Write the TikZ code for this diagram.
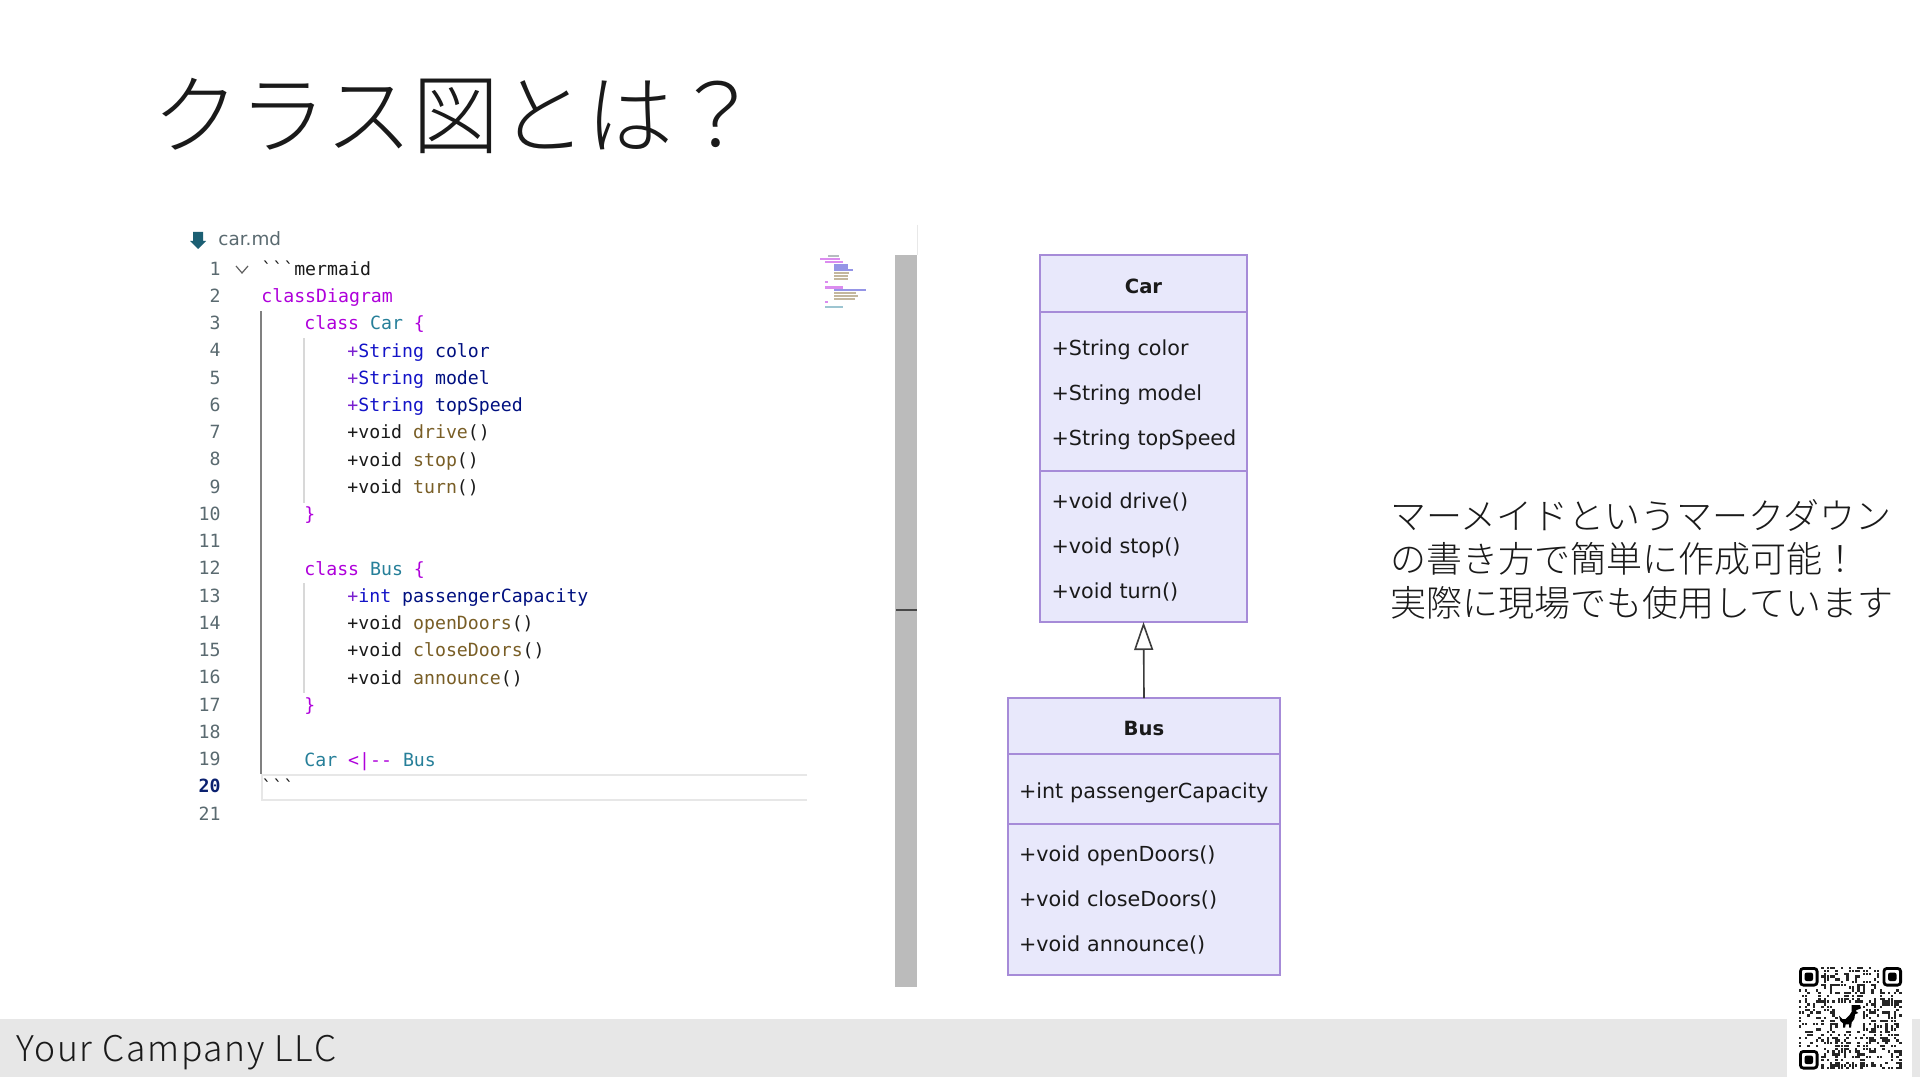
\documentclass[tikz,border=0pt]{standalone}
\usepackage{fontspec}
\usepackage{xcolor}
\usetikzlibrary{positioning,arrows.meta,calc}
\setmainfont{DejaVu Sans}
\newfontfamily\cjk{Noto Sans CJK JP Light}
\newfontfamily\cjkwide{Noto Sans CJK JP Light}[LetterSpace=5]
\newfontfamily\codef{DejaVu Sans Mono}
\definecolor{ink}{HTML}{1A1A1A}
\definecolor{barg}{HTML}{E7E7E7}
\definecolor{scrollg}{HTML}{BBBBBB}
\definecolor{numg}{HTML}{5A6A70}
\definecolor{numd}{HTML}{0B216F}
\definecolor{kw}{HTML}{AF00DB}
\definecolor{typ}{HTML}{267F99}
\definecolor{plusb}{HTML}{7A20D0}
\definecolor{strb}{HTML}{1414C8}
\definecolor{varb}{HTML}{001080}
\definecolor{fnc}{HTML}{795E26}
\definecolor{guide}{HTML}{D8D8D8}
\definecolor{umlfill}{HTML}{E8E8FB}
\definecolor{umlline}{HTML}{A68BD8}
\newcommand{\kwd}[1]{\textcolor{kw}{#1}}
\newcommand{\typ}[1]{\textcolor{typ}{#1}}
\newcommand{\fld}[2]{\textcolor{plusb}{+}\textcolor{strb}{#1} \textcolor{varb}{#2}}
\newcommand{\mth}[1]{+void \textcolor{fnc}{#1}()}
\newcommand{\lowr}[2]{\raisebox{-#1}[\height][\depth]{#2}}
\tikzset{
  codeln/.style={anchor=base west, inner sep=0pt, text=ink,
                 font=\codef\fontsize{9.1}{11}\selectfont},
  numln/.style={anchor=base east, inner sep=0pt, text=numg,
                font=\codef\fontsize{9.1}{11}\selectfont},
  headbox/.style={draw=umlline, fill=umlfill, line width=1.1pt, inner sep=0pt, outer sep=0pt,
                  font=\bfseries\fontsize{9.8}{12}\selectfont, text=ink},
  membox/.style={draw=umlline, fill=umlfill, line width=1.1pt, inner sep=0pt, outer sep=0pt,
                 align=left, font=\fontsize{10.35}{22.5}\selectfont, text=ink},
  inherit/.style={-{Triangle[open,length=14pt,width=9.5pt]}, line width=0.8pt, color=ink!85},
  jptext/.style={inner sep=0pt, text=ink, font=\cjk},
}
\begin{document}
\begin{tikzpicture}[x=0.5pt,y=-0.5pt]
\useasboundingbox (0,0) rectangle (1920,1080);
\fill[white] (0,0) rectangle (1920,1080);

% title and footer
\node[jptext, anchor=west, font=\cjk\fontsize{43.6}{50}\selectfont] (title) at (152,116) {クラス図とは？};
\fill[barg] (0,1019) rectangle (1920,1077);
\fill[white] (1787,960) rectangle (1912,1077);
\node[jptext, anchor=base west, font=\cjkwide\fontsize{17.7}{22}\selectfont] (company) at (16,1061) {Your Campany LLC};

% editor
\fill[fill=typ!75!black] (193,232) -- (203,232) -- (203,241) -- (206,241) -- (198,249) -- (190,241) -- (193,241) -- cycle;
\node[anchor=base west, inner sep=0pt, text=numg, font=\fontsize{9.2}{11}\selectfont] (fname) at (218,246) {car.md};
\draw[ink!70, line width=0.6pt] (236,266) -- (242,273) -- (248,266);
\begin{scope}[yshift=-0.6pt]
\foreach \n in {1,...,19,21}
  \node[numln] (n\n) at (221,{268+27.25*(\n-1)+6}) {\n};
\node[numln, text=numd] (n20) at (221,{268+27.25*19+6}) {\textbf{20}};

\draw[guide, line width=0.8pt] (304,337) -- (304,502);
\draw[guide, line width=0.8pt] (304,582) -- (304,692);
\draw[gray, line width=1pt] (261,310) -- (261,773);

\node[codeln] (c1) at (261,274) {```mermaid};
\node[codeln] (c2) at (261,301) {\kwd{classDiagram}};
\node[codeln] (c3) at (304,328.5) {\kwd{class} \typ{Car} \kwd{\{}};
\node[codeln] (c4) at (347,356) {\fld{String}{color}};
\node[codeln] (c5) at (347,383) {\fld{String}{model}};
\node[codeln] (c6) at (347,410) {\fld{String}{topSpeed}};
\node[codeln] (c7) at (347,437.5) {\mth{drive}};
\node[codeln] (c8) at (347,465) {\mth{stop}};
\node[codeln] (c9) at (347,492) {\mth{turn}};
\node[codeln] (c10) at (304,519) {\kwd{\}}};
\node[codeln] (c12) at (304,574) {\kwd{class} \typ{Bus} \kwd{\{}};
\node[codeln] (c13) at (347,601) {\fld{int}{passengerCapacity}};
\node[codeln] (c14) at (347,628.5) {\mth{openDoors}};
\node[codeln] (c15) at (347,655.5) {\mth{closeDoors}};
\node[codeln] (c16) at (347,683) {\mth{announce}};
\node[codeln] (c17) at (304,710) {\kwd{\}}};
\node[codeln] (c19) at (304,765) {\typ{Car} \kwd{<|--} \typ{Bus}};
\node[codeln] (c20) at (261,792) {```};
\end{scope}
\draw[barg, line width=1.2pt] (807,775) -- (262,775) -- (262,800) -- (807,800);

% minimap
\foreach \r/\i/\l/\c in {0/6/9/numg,1/0/16/kw,2/4/14/kw,3/11/11/strb,4/11/11/strb,5/11/15/strb,
    6/11/12/fnc,7/11/11/fnc,8/11/11/fnc,9/4/2/kw,11/4/14/kw,12/11/26/strb,13/11/18/fnc,14/11/19/fnc,
    15/11/17/fnc,16/4/2/kw,18/4/14/typ}
  \fill[\c!45] ({820+\i*1.25},{255+\r*2.85}) rectangle ++({\l*1.25},2.2);

% scrollbar
\draw[guide!60, line width=0.8pt] (917.5,225) -- (917.5,255);
\fill[scrollg] (895,255) rectangle (917,987);
\draw[ink!80, line width=1pt] (896,610) -- (917,610);

% class boxes
\node[headbox, minimum width=103.5pt, minimum height=28.5pt] (carhead) at (1143.5,283.5) {\lowr{1.2pt}{Car}};
\node[membox, minimum width=103.5pt, minimum height=79.5pt, text width=92pt] (carattr) [below=0pt of carhead]
  {\lowr{1.8pt}{+String color}\\\lowr{1.8pt}{+String model}\\\lowr{1.8pt}{+String topSpeed}};
\node[membox, minimum width=103.5pt, minimum height=75.5pt, text width=92pt] (carmeth) [below=0pt of carattr] {+void drive()\\+void stop()\\+void turn()};
\node[headbox, minimum width=136pt, minimum height=28pt] (bushead) at (1144,726) {\lowr{1.2pt}{Bus}};
\node[membox, minimum width=136pt, minimum height=35pt, text width=125pt] (busattr) [below=0pt of bushead] {\lowr{1.8pt}{+int passengerCapacity}};
\node[membox, minimum width=136pt, minimum height=75.5pt, text width=125pt] (busmeth) [below=0pt of busattr] {+void openDoors()\\+void closeDoors()\\+void announce()};
\draw[inherit] (bushead.north) -- (carmeth.south);

% side text
\node[jptext, anchor=west, align=left, font=\cjk\fontsize{18}{21.75}\selectfont] (note) at (1390,559)
  {マーメイドというマークダウン\\の書き方で簡単に作成可能！\\実際に現場でも使用しています};

% qr code
\pgfmathsetseed{17}
\foreach \qi in {0,...,36}
  \foreach \qj in {0,...,36}{
    \pgfmathrandominteger{\qr}{0}{99}
    \pgfmathtruncatemacro{\skipit}{((\qi<8 && \qj<8) || (\qi>28 && \qj<8) || (\qi<8 && \qj>28)
       || (\qi>13 && \qi<23 && \qj>12 && \qj<23)) ? 1 : 0}
    \ifnum\skipit=0 \ifnum\qr<40
      \fill[black!85] ({1799+\qi*2.78},{967+\qj*2.78}) rectangle ++(2.4,2.4);
    \fi\fi
  }
\foreach \fx/\fy in {1799/967,1882.5/967,1799/1050}{
  \draw[black, line width=1.4pt, rounded corners=1.5pt] (\fx+1.4,\fy+1.4) rectangle ++(16.7,16.7);
  \fill[black, rounded corners=1pt] (\fx+5.6,\fy+5.6) rectangle ++(8.4,8.4);
}
\fill[black] (1839,1015.7) -- (1842.3,1019) -- (1845.7,1019) -- (1849,1015.7) -- (1851.7,1011.7) -- (1851.7,1005)
  -- (1860,1005) -- (1861,1008.3) -- (1856.7,1010) -- (1855.7,1011) -- (1858.3,1013) -- (1855,1014.3)
  -- (1854.3,1019) -- (1851.7,1022.3) -- (1851,1027.7) -- (1849,1027.7) -- (1849,1024.3) -- (1845.7,1024.3)
  -- (1845,1027.7) -- (1843,1027.7) -- (1843,1023.3) -- (1840.3,1021) -- cycle;
\end{tikzpicture}
\end{document}
